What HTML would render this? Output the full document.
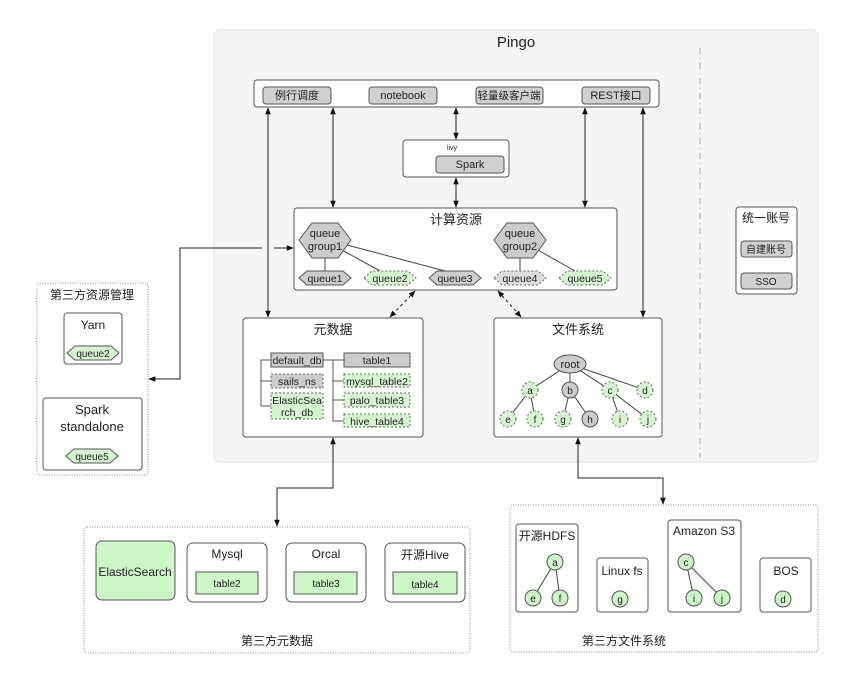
<!DOCTYPE html>
<html><head><meta charset="utf-8"><style>body{margin:0;background:#fff}svg{display:block}text{font-family:"Liberation Sans","Noto Sans CJK SC",sans-serif;fill:#222}</style></head><body>
<svg width="864" height="685" viewBox="0 0 864 685" xmlns="http://www.w3.org/2000/svg">
<defs>
<marker id="ar" viewBox="0 0 10 10" refX="9" refY="5" markerWidth="7" markerHeight="7" orient="auto-start-reverse"><path d="M0,1 L10,5 L0,9 z" fill="#111"/></marker>
</defs>
<g font-size="11" text-anchor="middle">
<rect x="214" y="30" width="604" height="432" rx="6" fill="#f5f5f5" stroke="#ddd"/>
<text x="516" y="47" font-size="15">Pingo</text>
<line x1="700" y1="48" x2="700" y2="458" stroke="#aaa" stroke-dasharray="6,4,1,4"/>

<rect x="254" y="80" width="405" height="27" rx="3" fill="#fff" stroke="#555"/>
<g fill="#d0d0d0" stroke="#555">
<rect x="263" y="87" width="68" height="17" rx="3"/>
<rect x="369" y="87" width="68" height="17" rx="3"/>
<rect x="476" y="87" width="67" height="17" rx="3"/>
<rect x="582" y="87" width="68" height="17" rx="3"/>
</g>
<text x="297" y="99">例行调度</text><text x="403" y="99">notebook</text><text x="509" y="99" font-size="10.5">轻量级客户端</text><text x="616" y="99">REST接口</text>

<rect x="403" y="140" width="106" height="37" rx="3" fill="#fff" stroke="#555"/>
<text x="452" y="150" font-size="7">livy</text>
<rect x="436" y="156" width="68" height="17" rx="3" fill="#d0d0d0" stroke="#555"/>
<text x="470" y="168">Spark</text>

<rect x="294" y="208" width="323" height="82" rx="3" fill="#fff" stroke="#555"/>
<text x="456" y="224" font-size="13">计算资源</text>
<g stroke="#444">
<line x1="325" y1="258" x2="325" y2="271"/><line x1="342" y1="250" x2="380" y2="271"/><line x1="347" y1="245" x2="445" y2="271"/>
<line x1="520" y1="258" x2="520" y2="271"/><line x1="536" y1="249" x2="575" y2="271"/>
</g>
<polygon points="299,240 312,223 338,223 351,240 338,258 312,258" fill="#ccc" stroke="#555"/>
<polygon points="494,240 507,223 533,223 546,240 533,258 507,258" fill="#ccc" stroke="#555"/>
<text x="325" y="237">queue</text><text x="325" y="250">group1</text>
<text x="520" y="237">queue</text><text x="520" y="250">group2</text>
<polygon points="299,278 307,271 343,271 351,278 343,285 307,285" fill="#ccc" stroke="#555"/>
<polygon points="364,278 372,271 408,271 416,278 408,285 372,285" fill="#d5f5d0" stroke="#666" stroke-dasharray="2,2"/>
<polygon points="429,278 437,271 473,271 481,278 473,285 437,285" fill="#ccc" stroke="#555"/>
<polygon points="494,278 502,271 538,271 546,278 538,285 502,285" fill="#ddd" stroke="#666" stroke-dasharray="2,2"/>
<polygon points="559,278 567,271 603,271 611,278 603,285 567,285" fill="#d5f5d0" stroke="#666" stroke-dasharray="2,2"/>
<g font-size="10.5"><text x="325" y="282">queue1</text><text x="390" y="282">queue2</text><text x="455" y="282">queue3</text><text x="520" y="282">queue4</text><text x="585" y="282">queue5</text></g>

<g stroke="#222" fill="none" marker-start="url(#ar)" marker-end="url(#ar)">
<line x1="268" y1="108" x2="268" y2="317"/>
<line x1="333" y1="108" x2="333" y2="207"/>
<line x1="456" y1="108" x2="456" y2="139"/>
<line x1="456" y1="178" x2="456" y2="207"/>
<line x1="585" y1="108" x2="585" y2="207"/>
<line x1="643" y1="108" x2="643" y2="317"/>
<line x1="415" y1="291" x2="390" y2="317" stroke-dasharray="3,3"/>
<line x1="498" y1="291" x2="521" y2="317" stroke-dasharray="3,3"/>
<polyline points="293,248 180,248 180,379 149,379"/>
<polyline points="333,438 333,488 277,488 277,526"/>
<polyline points="578,438 578,478 663,478 663,504"/>
</g>
<line x1="262" y1="248" x2="274" y2="248" stroke="#f5f5f5" stroke-width="2"/>
<line x1="268" y1="244" x2="268" y2="252" stroke="#222"/>

<rect x="243" y="318" width="180" height="119" rx="3" fill="#fff" stroke="#555"/>
<text x="333" y="334" font-size="13">元数据</text>
<g stroke="#555" fill="none">
<polyline points="271,360 261,360 261,406 271,406"/><line x1="261" y1="381" x2="271" y2="381"/>
<polyline points="323,360 333,360 333,421 344,421"/><line x1="333" y1="381" x2="344" y2="381"/><line x1="333" y1="400" x2="344" y2="400"/><line x1="323" y1="360" x2="344" y2="360"/>
</g>
<rect x="271" y="353" width="52" height="14" fill="#ccc" stroke="#555"/>
<rect x="271" y="374" width="52" height="14" fill="#ccc" stroke="#666" stroke-dasharray="2,2"/>
<rect x="271" y="393" width="52" height="26" fill="#d5f5d0" stroke="#666" stroke-dasharray="2,2"/>
<rect x="344" y="353" width="66" height="14" fill="#ccc" stroke="#555"/>
<rect x="344" y="374" width="66" height="13" fill="#d5f5d0" stroke="#666" stroke-dasharray="2,2"/>
<rect x="344" y="393" width="66" height="14" fill="#d5f5d0" stroke="#666" stroke-dasharray="2,2"/>
<rect x="344" y="414" width="66" height="13" fill="#d5f5d0" stroke="#666" stroke-dasharray="2,2"/>
<g font-size="10.5">
<text x="297" y="364">default_db</text><text x="297" y="385">sails_ns</text><text x="297" y="404">ElasticSea</text><text x="297" y="416">rch_db</text>
<text x="377" y="364">table1</text><text x="377" y="385">mysql_table2</text><text x="377" y="404">palo_table3</text><text x="377" y="425">hive_table4</text>
</g>

<rect x="494" y="318" width="168" height="119" rx="3" fill="#fff" stroke="#555"/>
<text x="578" y="334" font-size="13">文件系统</text>
<g stroke="#444">
<line x1="570" y1="364" x2="530" y2="390"/><line x1="570" y1="364" x2="570" y2="390"/><line x1="570" y1="364" x2="610" y2="390"/><line x1="570" y1="364" x2="645" y2="390"/>
<line x1="530" y1="390" x2="508" y2="419"/><line x1="530" y1="390" x2="535" y2="419"/>
<line x1="570" y1="390" x2="563" y2="419"/><line x1="570" y1="390" x2="590" y2="419"/>
<line x1="610" y1="390" x2="620" y2="419"/><line x1="610" y1="390" x2="648" y2="419"/>
</g>
<ellipse cx="570" cy="364" rx="16" ry="9" fill="#ccc" stroke="#555"/><text x="570" y="368">root</text>
<g stroke="#666" stroke-dasharray="2,2" fill="#d5f5d0">
<circle cx="530" cy="390" r="8"/><circle cx="610" cy="390" r="8"/><circle cx="645" cy="390" r="8"/>
<circle cx="508" cy="419" r="8"/><circle cx="535" cy="419" r="8"/><circle cx="563" cy="419" r="8"/><circle cx="620" cy="419" r="8"/><circle cx="648" cy="419" r="8"/>
</g>
<circle cx="570" cy="390" r="8" fill="#ccc" stroke="#555"/><circle cx="590" cy="419" r="8" fill="#ccc" stroke="#555"/>
<g font-size="10"><text x="530" y="394">a</text><text x="570" y="394">b</text><text x="610" y="394">c</text><text x="645" y="394">d</text>
<text x="508" y="423">e</text><text x="535" y="423">f</text><text x="563" y="423">g</text><text x="590" y="423">h</text><text x="620" y="423">i</text><text x="648" y="423">j</text></g>

<rect x="736" y="207" width="61" height="87" rx="3" fill="#fff" stroke="#555"/>
<text x="766" y="222" font-size="12">统一账号</text>
<rect x="741" y="241" width="51" height="16" rx="3" fill="#d0d0d0" stroke="#555"/><text x="766" y="253" font-size="10">自建账号</text>
<rect x="741" y="273" width="51" height="16" rx="3" fill="#d0d0d0" stroke="#555"/><text x="766" y="285" font-size="10">SSO</text>

<rect x="37" y="283" width="111" height="192" rx="3" fill="#fff" stroke="#888" stroke-dasharray="1,1.5"/>
<text x="92" y="299" font-size="12">第三方资源管理</text>
<rect x="64" y="313" width="58" height="51" rx="3" fill="#fff" stroke="#555"/>
<text x="93" y="329" font-size="12">Yarn</text>
<polygon points="67,353 75,346 111,346 119,353 111,360 75,360" fill="#d5f5d0" stroke="#555"/><text x="93" y="357" font-size="10">queue2</text>
<rect x="43" y="398" width="99" height="72" rx="3" fill="#fff" stroke="#555"/>
<text x="92" y="414" font-size="13">Spark</text><text x="92" y="431" font-size="13">standalone</text>
<polygon points="66,456 74,449 110,449 118,456 110,463 74,463" fill="#d5f5d0" stroke="#555"/><text x="92" y="460" font-size="10">queue5</text>

<rect x="84" y="527" width="386" height="126" rx="3" fill="#fff" stroke="#888" stroke-dasharray="1,1.5"/>
<rect x="96" y="541" width="79" height="59" rx="6" fill="#cdf5c8" stroke="#555"/>
<text x="135" y="576" font-size="12">ElasticSearch</text>
<g fill="#fff" stroke="#555"><rect x="187" y="543" width="80" height="59" rx="6"/><rect x="286" y="543" width="80" height="59" rx="6"/><rect x="385" y="543" width="80" height="59" rx="6"/></g>
<g fill="#cdf5c8" stroke="#555"><rect x="196" y="572" width="62" height="22"/><rect x="294" y="572" width="63" height="22"/><rect x="393" y="572" width="64" height="22"/></g>
<g font-size="12"><text x="227" y="558">Mysql</text><text x="326" y="558">Orcal</text><text x="425" y="559">开源Hive</text></g>
<g font-size="10"><text x="227" y="587">table2</text><text x="326" y="587">table3</text><text x="425" y="588">table4</text></g>
<text x="277" y="645" font-size="12">第三方元数据</text>

<rect x="510" y="505" width="308" height="147" rx="3" fill="#fff" stroke="#888" stroke-dasharray="1,1.5"/>
<g fill="#fff" stroke="#555"><rect x="516" y="524" width="62" height="88" rx="3"/><rect x="597" y="558" width="51" height="54" rx="3"/><rect x="668" y="520" width="73" height="92" rx="3"/><rect x="760" y="558" width="51" height="54" rx="3"/></g>
<g font-size="12"><text x="547" y="540">开源HDFS</text><text x="622" y="575">Linux fs</text><text x="704" y="535">Amazon S3</text><text x="786" y="575">BOS</text></g>
<g stroke="#444"><line x1="555" y1="562" x2="533" y2="598"/><line x1="555" y1="562" x2="560" y2="598"/><line x1="686" y1="562" x2="694" y2="598"/><line x1="686" y1="562" x2="722" y2="598"/></g>
<g fill="#cdf5c8" stroke="#555"><circle cx="555" cy="562" r="8"/><circle cx="533" cy="598" r="8"/><circle cx="560" cy="598" r="8"/><circle cx="620" cy="599" r="8"/><circle cx="686" cy="562" r="8"/><circle cx="694" cy="598" r="8"/><circle cx="722" cy="598" r="8"/><circle cx="783" cy="599" r="8"/></g>
<g font-size="10"><text x="555" y="566">a</text><text x="533" y="602">e</text><text x="560" y="602">f</text><text x="620" y="603">g</text><text x="686" y="566">c</text><text x="694" y="602">i</text><text x="722" y="602">j</text><text x="783" y="603">d</text></g>
<text x="624" y="645" font-size="12">第三方文件系统</text>
</g>
</svg>
</body></html>
